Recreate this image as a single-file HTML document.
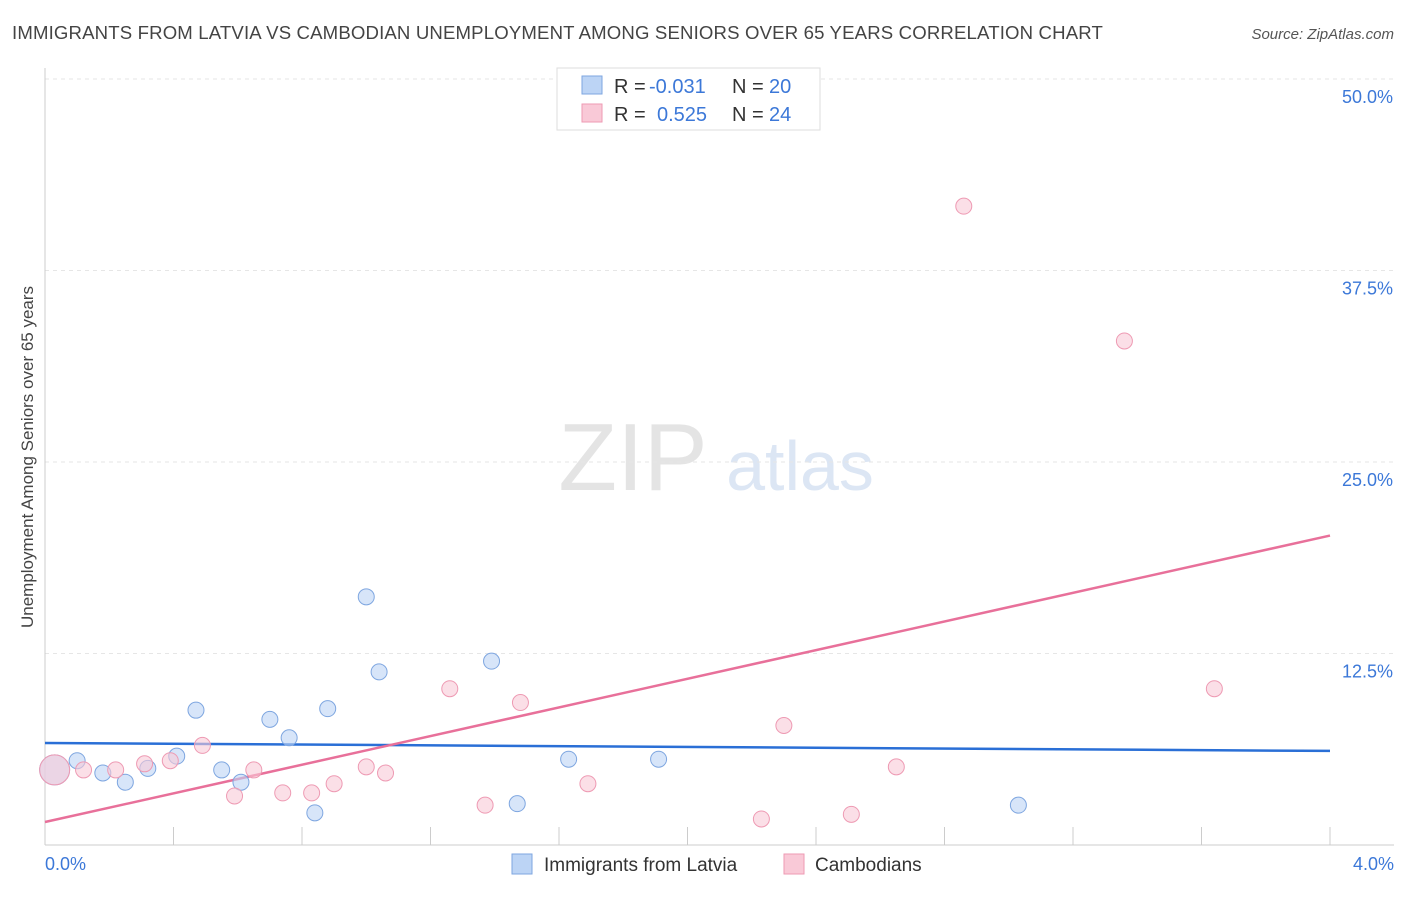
<!DOCTYPE html>
<html><head><meta charset="utf-8">
<style>
body{margin:0;background:#fff;font-family:"Liberation Sans",sans-serif;}
svg text{font-family:"Liberation Sans",sans-serif;}
</style></head>
<body>
<svg id="chart" width="1406" height="892" xmlns="http://www.w3.org/2000/svg">
<text x="12" y="39" font-size="18.6" letter-spacing="0.15" fill="#444">IMMIGRANTS FROM LATVIA VS CAMBODIAN UNEMPLOYMENT AMONG SENIORS OVER 65 YEARS CORRELATION CHART</text>
<text x="1394" y="39" font-size="15" fill="#555" text-anchor="end" font-style="italic">Source: ZipAtlas.com</text>
<text x="633" y="490" font-size="96" fill="#e4e4e4" font-family="Liberation Serif" text-anchor="middle">ZIP</text>
<text x="800" y="490" font-size="70" fill="#dce6f4" text-anchor="middle">atlas</text>
<text transform="translate(33,457) rotate(-90)" font-size="17" fill="#444" text-anchor="middle">Unemployment Among Seniors over 65 years</text>
<g id="grid"></g><g id="axes"></g><g id="lines"></g><g id="points"></g>
<g>
<rect x="557" y="68" width="263" height="62" fill="#fff" stroke="#ddd"/>
<rect x="582" y="76" width="20" height="18" fill="#bcd4f5" stroke="#7ea6e0"/>
<rect x="582" y="104" width="20" height="18" fill="#f9c9d7" stroke="#ee9ab3"/>
<text x="614" y="93" font-size="20" fill="#333">R =</text>
<text x="649" y="93" font-size="20" fill="#3c78d8">-0.031</text>
<text x="732" y="93" font-size="20" fill="#333">N =</text>
<text x="769" y="93" font-size="20" fill="#3c78d8">20</text>
<text x="614" y="121" font-size="20" fill="#333">R =</text>
<text x="657" y="121" font-size="20" fill="#3c78d8">0.525</text>
<text x="732" y="121" font-size="20" fill="#333">N =</text>
<text x="769" y="121" font-size="20" fill="#3c78d8">24</text>
</g>
<g>
<rect x="512" y="854" width="20" height="20" fill="#bcd4f5" stroke="#7ea6e0"/>
<text x="544" y="871" font-size="19" fill="#333">Immigrants from Latvia</text>
<rect x="784" y="854" width="20" height="20" fill="#f9c9d7" stroke="#ee9ab3"/>
<text x="815" y="871" font-size="19" fill="#333">Cambodians</text>
</g>
</svg>
<script>
const yTicks=[12.5,25,37.5,50];
const yTickLabels=["12.5%","25.0%","37.5%","50.0%"];
const xTickLabels=["0.0%","4.0%"];
const latviaX=[0.03,0.10,0.18,0.25,0.32,0.41,0.47,0.55,0.61,0.70,0.76,0.84,0.88,1.00,1.04,1.39,1.47,1.63,1.91,3.03];
const latviaY=[4.9,5.5,4.7,4.1,5.0,5.8,8.8,4.9,4.1,8.2,7.0,2.1,8.9,16.2,11.3,12.0,2.7,5.6,5.6,2.6];
const cambX=[0.03,0.12,0.22,0.31,0.39,0.49,0.59,0.65,0.74,0.83,0.90,1.00,1.06,1.26,1.37,1.48,1.69,2.23,2.30,2.51,2.65,2.86,3.36,3.64];
const cambY=[4.9,4.9,4.9,5.3,5.5,6.5,3.2,4.9,3.4,3.4,4.0,5.1,4.7,10.2,2.6,9.3,4.0,1.7,7.8,2.0,5.1,41.7,32.9,10.2];
const latviaTrend=[6.66,6.14];
const cambTrend=[1.5,20.2];
const X=v=>45+v/4*1285, Y=v=>845-v/50*766;
const NS="http://www.w3.org/2000/svg";
function mk(t,a,p){const e=document.createElementNS(NS,t);for(const k in a)e.setAttribute(k,a[k]);document.getElementById(p).appendChild(e);return e;}
yTicks.forEach((t,i)=>{
 const g=mk('line',{x1:45,x2:1394,y1:Y(t),y2:Y(t),stroke:'#e6e6e6','stroke-dasharray':'4,4'},'grid');
 
 
 const l=mk('text',{x:1393,y:Y(t)+24,'font-size':18,fill:'#3c78d8','text-anchor':'end'},'axes');
 l.textContent=yTickLabels[i];
 
 
});
const ax=mk('line',{x1:45,x2:45,y1:68,y2:845,stroke:'#ccc'},'axes');


const bx=mk('line',{x1:45,x2:1394,y1:845,y2:845,stroke:'#ccc'},'axes');


for(let i=1;i<=10;i++){const t=mk('line',{x1:X(i*0.4),x2:X(i*0.4),y1:827,y2:845,stroke:'#ccc'},'axes');
 
 }
[[0,'start',45],[4,'end',1394]].forEach((d,i)=>{const t=mk('text',{x:d[2],y:870,'font-size':18,fill:'#3c78d8','text-anchor':d[1]},'axes');t.textContent=xTickLabels[i];
 
 });
function pts(xs,ys,fill,stroke,name){xs.forEach((x,i)=>{const r=i===0?15:8;
 const c=mk('circle',{cx:X(x),cy:Y(ys[i]),r:r,fill:fill,stroke:stroke,'stroke-width':1,'fill-opacity':0.6},'points');
 
 });}
pts(latviaX,latviaY,'#bcd4f5','#7ea6e0','latvia-point');
pts(cambX,cambY,'#f9c9d7','#ee9ab3','cambodian-point');
const l1=mk('line',{x1:X(0),x2:X(4),y1:Y(latviaTrend[0]),y2:Y(latviaTrend[1]),stroke:'#2a6fd6','stroke-width':2.5},'lines');


const l2=mk('line',{x1:X(0),x2:X(4),y1:Y(cambTrend[0]),y2:Y(cambTrend[1]),stroke:'#e8709a','stroke-width':2.5},'lines');


</script>
</body></html>
